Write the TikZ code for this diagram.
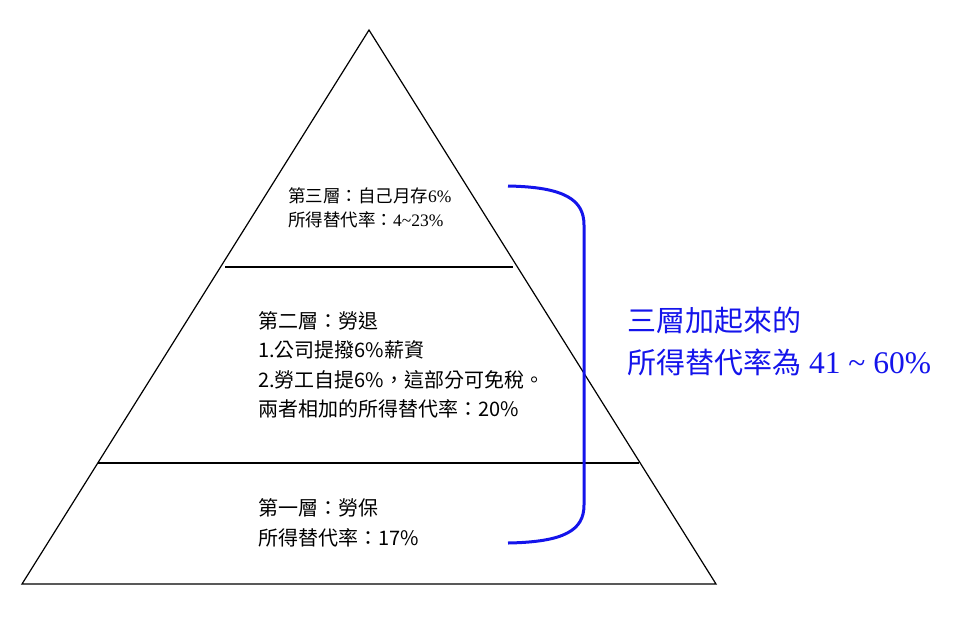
\documentclass[tikz,border=0pt]{standalone}
\usepackage{fontspec}
\setmainfont{Noto Sans CJK TC}
\newfontfamily\lserif{Liberation Serif}
\definecolor{penblue}{RGB}{20,20,235}

\begin{document}
\begin{tikzpicture}[x=1pt,y=-1pt,
            every node/.style={inner sep=0pt,anchor=west,align=left},
            tiertext/.style={font=\fontsize{20}{29.5}\selectfont},
            toptext/.style={font=\fontsize{17.5}{24}\selectfont},
            sumtext/.style={font=\fontsize{29}{42}\selectfont,text=penblue},
            layer/.style={line width=1.2pt},
            brace/.style={penblue,line width=3pt}]
                \useasboundingbox (0,0) rectangle (960,619);
                % pyramid
                \coordinate(apex) at (369,30);
                \coordinate(bl) at (22,584);
                \coordinate(br) at (716,584);
                \draw[layer] (apex) -- (bl) -- (br) -- cycle;
                \draw[layer] (225,267) -- (513,267);
                \draw[layer] (98,463) -- (639,463);
                % texts
                \node[toptext](tier3) at (288,208) {第三層：自己月存{\lserif 6\%}\\所得替代率：{\lserif 4\textasciitilde23\%}};
                \node[tiertext](tier2) at (258,365) {第二層：勞退\\1.公司提撥6\%薪資\\2.勞工自提6\%，這部分可免稅。\\兩者相加的所得替代率：20\%};
                \node[tiertext](tier1) at (258,523) {第一層：勞保\\所得替代率：17\%};
                \node[sumtext](total) at (627,341) {三層加起來的\\所得替代率為{\lserif\fontsize{31.5}{42}\selectfont\ 41 \textasciitilde\ 60\%}};
                % bracket
                \coordinate(btop) at (508,186);
                \coordinate(bbot) at (508,543);
                \draw[brace] (btop) .. controls (565,187) and (584,200) .. (584,225)
                    -- (584,505) .. controls (584,530) and (565,542) .. (bbot);
        \end{tikzpicture}
\end{document}
